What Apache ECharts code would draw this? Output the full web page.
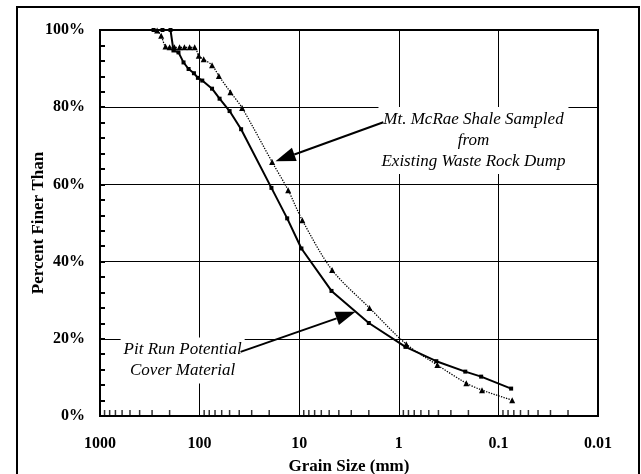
<!DOCTYPE html>
<html>
<head>
<meta charset="utf-8">
<script src="https://cdn.jsdelivr.net/npm/echarts@6/dist/echarts.min.js"></script>
<style>
  html, body { margin: 0; padding: 0; background: #fff; }
  #chart { width: 641px; height: 474px; }
</style>
</head>
<body>
<div id="chart"></div>
<script>
// Pit Run Potential Cover Material (solid line, squares)
const grainPitRun = [290, 236, 196, 183, 163, 145, 129, 114, 104, 94, 75, 63, 50, 38.3, 19, 13.2, 9.5, 4.74, 2.0, 0.857, 0.42, 0.215, 0.149, 0.0745];
const finerPitRun = [100, 100, 100, 94.7, 94.2, 91.6, 89.9, 88.8, 87.6, 86.9, 84.8, 82.2, 79.0, 74.3, 59.1, 51.2, 43.4, 32.4, 24.1, 17.9, 14.2, 11.5, 10.2, 7.1];

// Mt. McRae Shale (dotted line, triangles)
const grainShale = [267, 243, 220, 200, 179, 159, 142, 126, 112, 102, 91, 75, 64, 49, 37.4, 18.7, 12.9, 9.3, 4.67, 1.97, 0.84, 0.41, 0.21, 0.146, 0.0727];
const finerShale = [99.9, 98.5, 95.7, 95.5, 95.5, 95.5, 95.5, 95.5, 95.5, 93.3, 92.4, 90.9, 88.1, 83.9, 79.8, 65.8, 58.5, 50.7, 37.8, 28.0, 18.6, 13.2, 8.5, 6.7, 4.1];

const xTickLabels = ['0.01', '0.1', '1', '10', '100', '1000'];
const yTickLabels = ['0%', '20%', '40%', '60%', '80%', '100%'];
const minorMantissas = [2, 3, 4, 5, 6, 7, 8, 9];
const decades = [0.01, 0.1, 1, 10, 100];

const annotations = [
  { text: 'Mt. McRae Shale Sampled\nfrom\nExisting Waste Rock Dump', at: [0.178, 71.4], from: [1.43, 76.1], to: [17.3, 66.0] },
  { text: 'Pit Run Potential\nCover Material', at: [148, 14.4], from: [38.8, 16.6], to: [2.72, 27.0] }
];

const serif = '"Liberation Serif", "Times New Roman", serif';
const chart = echarts.init(document.getElementById('chart'));

const minorTicks = [];
decades.forEach(d => minorMantissas.forEach(m => minorTicks.push([d * m, 0])));

const option = {
  backgroundColor: '#fff',
  animation: false,
  grid: {
    left: 100, right: 43, top: 30, bottom: 58,
    outerBoundsMode: 'none',
    show: true, borderColor: '#000', borderWidth: 2
  },
  xAxis: {
    type: 'log',
    logBase: 10,
    min: 0.01,
    max: 1000,
    inverse: true,
    name: 'Grain Size (mm)',
    nameLocation: 'middle',
    nameGap: 42,
    nameMoveOverlap: false,
    nameTextStyle: { fontFamily: serif, fontWeight: 'bold', fontSize: 17, color: '#000' },
    axisLine: { lineStyle: { color: '#000', width: 2 } },
    axisTick: { show: false },
    axisLabel: {
      margin: 20,
      fontFamily: serif, fontWeight: 'bold', fontSize: 16, color: '#000',
      formatter: v => xTickLabels[Math.round(Math.log10(v)) + 2]
    },
    splitLine: { show: true, lineStyle: { color: '#000', width: 1 } }
  },
  yAxis: {
    type: 'value',
    min: 0,
    max: 100,
    interval: 20,
    name: 'Percent Finer Than',
    nameLocation: 'middle',
    nameGap: 53,
    nameMoveOverlap: false,
    nameTextStyle: { fontFamily: serif, fontWeight: 'bold', fontSize: 17, color: '#000' },
    axisLine: { lineStyle: { color: '#000', width: 2 } },
    axisTick: { show: true, inside: true, length: 5, lineStyle: { color: '#000', width: 2 } },
    minorTick: { show: true, splitNumber: 5, length: 5, lineStyle: { color: '#000', width: 2 } },
    axisLabel: {
      margin: 15,
      fontFamily: serif, fontWeight: 'bold', fontSize: 16, color: '#000',
      formatter: v => yTickLabels[Math.round(v / 20)]
    },
    splitLine: { show: true, lineStyle: { color: '#000', width: 1 } }
  },
  series: [
    {
      name: 'Pit Run Potential Cover Material',
      type: 'line',
      data: grainPitRun.map((g, i) => [g, finerPitRun[i]]),
      symbol: 'rect',
      symbolSize: 4,
      itemStyle: { color: '#000' },
      lineStyle: { color: '#000', width: 2 },
      z: 4
    },
    {
      name: 'Mt. McRae Shale',
      type: 'line',
      data: grainShale.map((g, i) => [g, finerShale[i]]),
      smooth: 0.3,
      symbol: 'triangle',
      symbolSize: 6,
      itemStyle: { color: '#000' },
      lineStyle: { color: '#000', width: 1.3, type: 'dotted' },
      z: 3
    },
    {
      name: 'minor ticks',
      type: 'scatter',
      data: minorTicks,
      symbol: 'rect',
      symbolSize: [1.5, 6],
      symbolOffset: [0, -3],
      itemStyle: { color: '#000' },
      silent: true,
      clip: false,
      z: 5
    }
  ],
  graphic: [
    { id: 'frame', type: 'rect', shape: { x: 17, y: 7, width: 622, height: 480 }, style: { fill: 'none', stroke: '#000', lineWidth: 2 }, z: 0 }
  ]
};

chart.setOption(option);

// annotations placed in data space, converted through the chart's axes
const extra = [];
annotations.forEach((a, k) => {
  const c = chart.convertToPixel({ gridIndex: 0 }, a.at);
  const p0 = chart.convertToPixel({ gridIndex: 0 }, a.from);
  const p1 = chart.convertToPixel({ gridIndex: 0 }, a.to);
  const dx = p1[0] - p0[0], dy = p1[1] - p0[1];
  const len = Math.sqrt(dx * dx + dy * dy);
  const ux = dx / len, uy = dy / len;
  const headLen = 20, headHalf = 7;
  const bx = p1[0] - ux * headLen, by = p1[1] - uy * headLen;
  extra.push({
    id: 'label' + k, type: 'text', x: c[0], y: c[1], z: 50,
    style: {
      text: a.text, align: 'center', verticalAlign: 'middle',
      font: 'italic 17px ' + serif, fill: '#000', lineHeight: 21,
      backgroundColor: '#fff', padding: [2, 3]
    }
  });
  extra.push({
    id: 'shaft' + k, type: 'line', z: 60,
    shape: { x1: p0[0], y1: p0[1], x2: bx, y2: by },
    style: { stroke: '#000', lineWidth: 2 }
  });
  extra.push({
    id: 'head' + k, type: 'polygon', z: 60,
    shape: { points: [[p1[0], p1[1]], [bx - uy * headHalf, by + ux * headHalf], [bx + uy * headHalf, by - ux * headHalf]] },
    style: { fill: '#000' }
  });
});
chart.setOption({ graphic: extra });
</script>
</body>
</html>
